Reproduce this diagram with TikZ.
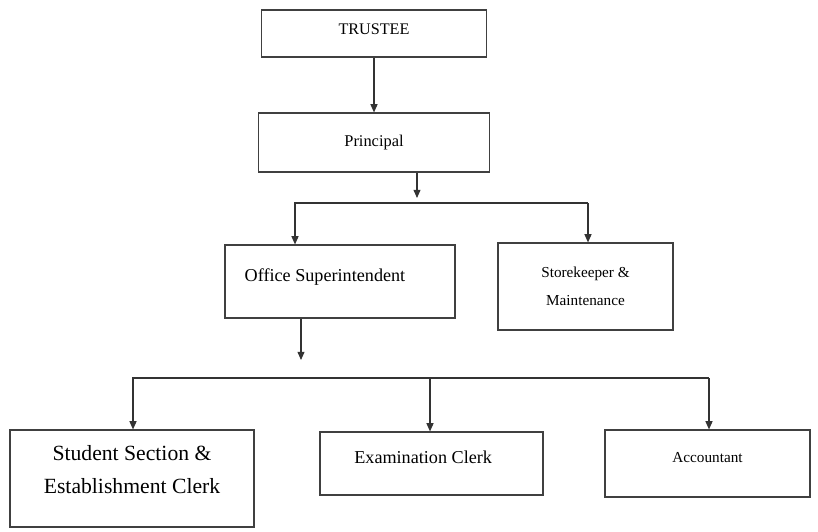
\documentclass[tikz,border=0pt]{standalone}
\usepackage{fontspec}
\setmainfont{Liberation Serif}
\usetikzlibrary{arrows.meta}
\tikzstyle{box}=[draw=black!75,line width=1pt,align=center,font=\fontsize{13}{24}\selectfont,inner sep=2pt]
\tikzstyle{big box}=[box,font=\fontsize{15.5}{19}\selectfont,text depth=11pt]
\tikzstyle{edge}=[draw=black!80,line width=0.9pt]
\tikzstyle{link}=[edge,-{Triangle[length=7pt,width=6pt]}]

\begin{document}
\begin{tikzpicture}[x=0.03cm,y=-0.03cm]
        \useasboundingbox (0,0) rectangle (818,531);
        \node[box,font=\fontsize{13.8}{17}\selectfont,text depth=7pt,minimum width=6.75cm,minimum height=1.41cm] (trustee) at (374,33.5) {TRUSTEE};
        \node[box,font=\fontsize{14}{17}\selectfont,minimum width=6.93cm,minimum height=1.77cm] (principal) at (374,142.5) {Principal};
        \node[big box,minimum width=6.9cm,minimum height=2.19cm] (office) at (340,281.5) {Office Superintendent\hspace*{0.9cm}};
        \node[box,minimum width=5.25cm,minimum height=2.61cm] (store) at (585.5,286.5) {Storekeeper \&\\Maintenance};
        \node[box,font=\fontsize{18.5}{28}\selectfont,text depth=15pt,minimum width=7.32cm,minimum height=2.91cm] (student) at (132,478.5) {Student Section \&\\Establishment Clerk};
        \node[big box,minimum width=6.69cm,minimum height=1.89cm] (exam) at (431.5,463.5) {Examination Clerk\hspace*{0.5cm}};
        \node[box,text depth=11pt,minimum width=6.15cm,minimum height=2.01cm] (acct) at (707.5,463.5) {Accountant};
        % junctions
        \coordinate (ptip) at (417,198);
        \coordinate (busA) at (295,203);
        \coordinate (busB) at (588,203);
        \coordinate (otip) at (301,360);
        \coordinate (busC) at (133,378);
        \coordinate (busE) at (430,378);
        \coordinate (busD) at (709,378);
        \draw[link] (trustee.south) -- (principal.north);
        \draw[link] (principal.south -| ptip) -- (ptip);
        \draw[link] (busB) -- (busA) -- (office.north -| busA);
        \draw[link] (busB) -- (store.north -| busB);
        \draw[link] (office.south -| otip) -- (otip);
        \draw[link] (busD) -- (busC) -- (student.north -| busC);
        \draw[link] (busE) -- (exam.north -| busE);
        \draw[link] (busD) -- (acct.north -| busD);
      \end{tikzpicture}
\end{document}
